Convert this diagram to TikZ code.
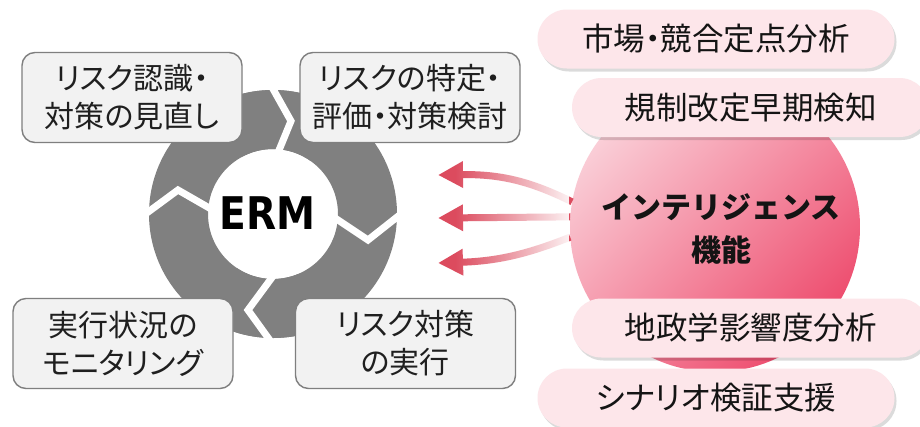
\documentclass[tikz,border=0pt]{standalone}
\usepackage{fontspec}
\newfontfamily\jp{Noto Sans CJK JP}
\newfontfamily\jpp{Noto Sans CJK JP}[RawFeature=+palt]
\newfontfamily\ermfont{DejaVu Sans}[FakeStretch=0.87]
\usetikzlibrary{arrows.meta,fadings,shadows,shadings}
\definecolor{ringgray}{HTML}{808080}
\definecolor{ringlight}{HTML}{C8C8C8}
\definecolor{boxfill}{HTML}{F2F2F2}
\definecolor{boxline}{HTML}{7F7F7F}
\definecolor{pillfill}{HTML}{FDE6EA}
\definecolor{arrowred}{HTML}{DC4B5E}
\definecolor{cA}{HTML}{FCE9ED}
\definecolor{cB}{HTML}{F590A5}
\definecolor{cC}{HTML}{EA2F56}
\tikzfading[name=fadeleft, left color=transparent!100, right color=transparent!8]
\tikzset{
  stepbox/.style={draw=boxline, line width=1.4pt, fill=boxfill, rounded corners=13pt,
    minimum width=220pt, minimum height=90pt, inner sep=0pt, align=center,
    font=\jpp\fontsize{30}{38}\selectfont, text=black!88},
  pill/.style={fill=pillfill, rounded corners=29.5pt, minimum width=357pt, minimum height=59pt,
    inner sep=0pt, font=\jpp\fontsize{31.5}{38}\selectfont, text=black!92,
    drop shadow={shadow xshift=2pt, shadow yshift=-3pt, opacity=0.14, fill=black}},
  gap/.style={draw=white, line width=7pt, miter limit=10},
  intelarrow/.style={draw=arrowred, line width=7pt, -{Triangle[length=25pt,width=25pt]}},
}
\begin{document}
\begin{tikzpicture}[x=1pt,y=-1pt]
\useasboundingbox (0,0) rectangle (920,426);
\fill[white] (0,0) rectangle (920,426);
% ring
\coordinate (c) at (273,214);
\fill[ringgray, even odd rule] (c) circle[radius=124pt] (c) circle[radius=65pt];
\begin{scope}[even odd rule]
  \clip (c) circle[radius=124pt] (c) circle[radius=65pt];
  \shade[left color=ringgray, middle color=ringlight, right color=ringgray] (242,80) rectangle (318,160);
  \shade[left color=ringgray, middle color=ringlight, right color=ringgray] (226,268) rectangle (298,345);
\end{scope}
\draw[gap] (268,80) -- (291,121) -- (275,160);
\draw[gap] (326,212) -- (368,240) -- (406,210);
\draw[gap] (279,268) -- (248,310) -- (274,346);
\draw[gap] (140,218) -- (178,190) -- (218,213);
\node[font=\ermfont\bfseries\fontsize{45}{50}\selectfont, inner sep=0pt] (erm) at (267.5,213) {ERM};
% boxes
\node[stepbox] (b1) at (132,97.5) {リスク認識・\\対策の見直し};
\node[stepbox] (b2) at (410,97.5) {リスクの特定・\\評価・対策検討};
\node[stepbox] (b3) at (123,343.5) {実行状況の\\モニタリング};
\node[stepbox] (b4) at (405.5,343.5) {リスク対策\\の実行};
% intelligence circle
\node[circle, minimum size=290pt, inner sep=0pt, upper left=cA, upper right=cB, lower left=cB, lower right=cC] (circ) at (715,227) {};
\node[font=\jp\bfseries\fontsize{30}{43}\selectfont, align=center, inner sep=0pt, text=black!92] (inteltext) at (721,228.5) {インテリジェンス\\機能};
% arrows
\coordinate (a1) at (438,175);
\coordinate (a2) at (438,218);
\coordinate (a3) at (438,263);
\draw[intelarrow] (circ.170) .. controls (530,181) and (500,174) .. (a1);
\draw[intelarrow] (circ.176) -- (a2);
\draw[intelarrow] (circ.184) .. controls (530,253) and (500,261) .. (a3);
\fill[white, path fading=fadeleft] (455,150) rectangle (569,285);
% pills
\node[pill] (p1) at (716,39) {市場・競合定点分析};
\node[pill] (p2) at (750.5,107.5) {規制改定早期検知};
\node[pill] (p3) at (750.5,328) {地政学影響度分析};
\node[pill] (p4) at (716,398) {シナリオ検証支援};
\end{tikzpicture}
\end{document}
